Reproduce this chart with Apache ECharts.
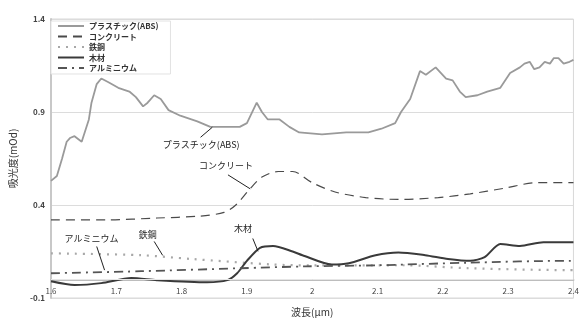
<!DOCTYPE html>
<html><head><meta charset="utf-8">
<script src="https://cdn.jsdelivr.net/npm/echarts@6/dist/echarts.min.js"></script>
<style>html,body{margin:0;padding:0;background:#fff}#c{width:582px;height:322px}</style>
</head><body><div id="c"></div>
<script>
const FONT = '"Noto Sans CJK JP","Noto Sans",sans-serif';
const seriesNames = ['プラスチック(ABS)', 'コンクリート', '鉄鋼', '木材', 'アルミニウム'];

const plasticX = [1.600,1.609,1.617,1.624,1.629,1.636,1.647,1.658,1.662,1.670,1.677,1.688,1.703,1.720,1.730,1.741,1.748,1.758,1.768,1.780,1.798,1.824,1.844,1.864,1.889,1.900,1.915,1.923,1.932,1.950,1.965,1.980,2.015,2.052,2.086,2.106,2.127,2.136,2.150,2.165,2.174,2.189,2.205,2.215,2.226,2.235,2.253,2.268,2.288,2.303,2.318,2.325,2.333,2.340,2.348,2.356,2.364,2.370,2.377,2.385,2.394,2.400];
const plasticY = [0.53,0.556,0.65,0.74,0.76,0.77,0.74,0.86,0.95,1.05,1.08,1.06,1.03,1.01,0.98,0.93,0.95,0.99,0.97,0.91,0.88,0.85,0.82,0.82,0.82,0.84,0.95,0.90,0.86,0.86,0.82,0.79,0.78,0.79,0.79,0.81,0.84,0.90,0.97,1.12,1.10,1.14,1.08,1.07,1.01,0.98,0.99,1.01,1.03,1.11,1.14,1.16,1.17,1.13,1.14,1.17,1.16,1.19,1.19,1.16,1.17,1.18];

const concreteX = [1.600,1.686,1.762,1.827,1.865,1.883,1.903,1.923,1.948,1.970,2.000,2.035,2.082,2.132,2.193,2.242,2.294,2.344,2.394,2.400];
const concreteY = [0.32,0.32,0.33,0.34,0.36,0.40,0.48,0.55,0.58,0.58,0.52,0.47,0.44,0.43,0.44,0.46,0.49,0.52,0.52,0.52];

const steelX = [1.600,1.738,1.814,1.940,2.000,2.140,2.240,2.394,2.400];
const steelY = [0.14,0.13,0.11,0.08,0.075,0.076,0.06,0.05,0.05];

const woodX = [1.600,1.636,1.677,1.723,1.762,1.839,1.870,1.885,1.900,1.920,1.940,1.970,1.985,2.030,2.056,2.097,2.132,2.173,2.208,2.242,2.264,2.288,2.318,2.354,2.394,2.400];
const woodY = [-0.01,-0.03,-0.02,0.007,-0.004,-0.015,-0.004,0.033,0.10,0.17,0.18,0.15,0.13,0.08,0.087,0.13,0.145,0.13,0.11,0.10,0.12,0.19,0.18,0.20,0.20,0.20];

const aluX = [1.600,1.738,1.890,1.990,2.100,2.240,2.394,2.400];
const aluY = [0.033,0.044,0.06,0.07,0.076,0.09,0.10,0.10];

const xTicks = { min: 1.6, max: 2.4, step: 0.1 };
const yTicks = { min: -0.1, max: 1.4, step: 0.5 };

// annotations: text, text position, leader start, leader end (data coords)
const annText = ['プラスチック(ABS)', 'コンクリート', '木材', '鉄鋼', 'アルミニウム'];
const annPos = [[1.830,0.727],[1.868,0.61],[1.894,0.274],[1.748,0.242],[1.662,0.22]];
const annFrom = [[1.829,0.764],[1.871,0.562],[1.909,0.22],[1.758,0.204],[1.670,0.177]];
const annTo = [[1.847,0.818],[1.905,0.487],[1.917,0.151],[1.771,0.129],[1.682,0.05]];

function zip(xs, ys){ return xs.map((x,i)=>[x, ys[i]]); }

const styles = [
  {color:'#9a9a9a', width:1.8, type:'solid'},
  {color:'#4a4a4a', width:1.2, type:[9,6]},
  {color:'#a8a8a8', width:2.2, type:[2,6]},
  {color:'#3a3a3a', width:2, type:'solid'},
  {color:'#555555', width:1.8, type:[9,5,2,5]}
];
const smooths = [false, 0.3, 0.3, 0.25, 0.3];
const datas = [zip(plasticX,plasticY), zip(concreteX,concreteY), zip(steelX,steelY), zip(woodX,woodY), zip(aluX,aluY)];

const series = seriesNames.map((n,i)=>({
  name:n, type:'line', data:datas[i], symbol:'none', showSymbol:false, smooth:smooths[i],
  lineStyle:styles[i], itemStyle:{color:styles[i].color}, z: 3
}));
series.push({
  type:'line', data:[], silent:true,
  markLine:{ symbol:['none','none'], silent:true, label:{show:false},
    lineStyle:{color:'#222', width:1, type:'solid'},
    data: annFrom.map((f,i)=>[{coord:f},{coord:annTo[i]}]).concat([[{coord:[1.6,0], lineStyle:{color:'#e6e6e6', width:1}},{coord:[2.4,0]}]])
  },
  markPoint:{ symbol:'circle', symbolSize:0, silent:true,
    label:{show:true, position:'inside', color:'#222', fontSize:9, fontFamily:FONT, formatter:p=>p.name},
    data: annText.map((t,i)=>({name:t, coord:annPos[i]}))
  }
});

const chart = echarts.init(document.getElementById('c'), null, {renderer:'canvas'});
chart.setOption({
  animation:false,
  backgroundColor:'#fff',
  grid:{left:49, right:4, top:19, bottom:22, show:true, borderColor:'#d8d8d8', borderWidth:1},
  legend:{
    data:seriesNames, orient:'vertical', left:51, top:21,
    itemWidth:26, itemHeight:8, itemGap:2.5, padding:[1,12,2,6],
    itemStyle:{opacity:0},
    backgroundColor:'#fff', borderColor:'#e2e2e2', borderWidth:1,
    textStyle:{fontSize:8, fontWeight:'bold', color:'#333', fontFamily:FONT}
  },
  xAxis:{
    type:'value', min:xTicks.min, max:xTicks.max, interval:xTicks.step,
    name:'波長(μm)', nameLocation:'middle', nameGap:9,
    nameTextStyle:{fontSize:10, color:'#333', fontFamily:FONT},
    axisLine:{show:true, lineStyle:{color:'#bdbdbd', width:2}},
    axisTick:{show:false},
    axisLabel:{inside:true, margin:3, fontSize:8, color:'#444', fontFamily:FONT,
      formatter:v=>String(parseFloat(v.toFixed(1)))},
    splitLine:{show:false}
  },
  yAxis:{
    type:'value', min:yTicks.min, max:yTicks.max, interval:yTicks.step,
    name:'吸光度(mOd)', nameLocation:'middle', nameGap:33,
    nameTextStyle:{fontSize:10, color:'#333', fontFamily:FONT},
    axisLine:{show:true, lineStyle:{color:'#c8c8c8', width:2}},
    axisTick:{show:false},
    axisLabel:{margin:6, fontSize:8, fontWeight:'bold', color:'#444', fontFamily:FONT,
      formatter:v=>String(parseFloat(v.toFixed(1)))},
    splitLine:{show:true, lineStyle:{color:'#dcdcdc', width:1}}
  },
  series:series
});
</script></body></html>
